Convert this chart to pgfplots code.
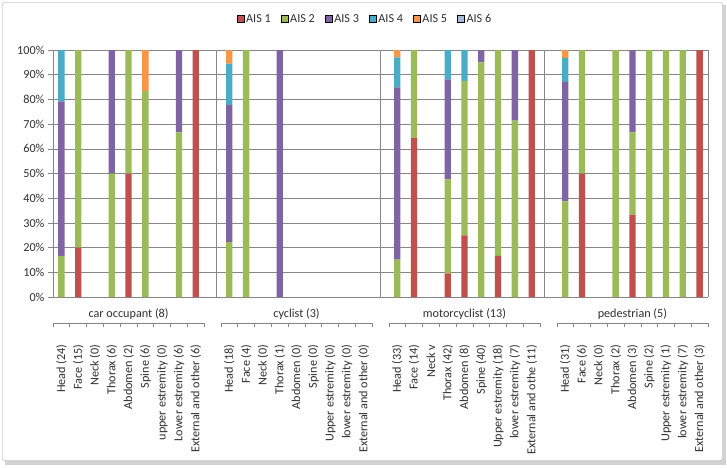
\documentclass[border=0pt]{standalone}
\usepackage{fontspec}
\setmainfont{Carlito}
\usepackage{pgfplots}
\pgfplotsset{compat=1.18}
\usepackage{pgfplotstable}
\definecolor{aisA}{HTML}{C0504D}
\definecolor{aisB}{HTML}{9BBB59}
\definecolor{aisC}{HTML}{8064A2}
\definecolor{aisD}{HTML}{4BACC6}
\definecolor{aisE}{HTML}{F79646}
\definecolor{aisF}{HTML}{A5B9DE}
\definecolor{gridc}{HTML}{868686}
\definecolor{txtc}{HTML}{303030}

\pgfplotstableread{
x  a1     a2     a3     a4     a5    a6
0  0      16.67  62.50  20.83  0     0
1  20     80     0      0      0     0
2  0      0      0      0      0     0
3  0      50     50     0      0     0
4  50     50     0      0      0     0
5  0      83.33  0      0      16.67 0
6  0      0      0      0      0     0
7  0      66.67  33.33  0      0     0
8  100    0      0      0      0     0
9  0      0      0      0      0     0
10 0      22.22  55.56  16.67  5.55  0
11 0      100    0      0      0     0
12 0      0      0      0      0     0
13 0      0      100    0      0     0
14 0      0      0      0      0     0
15 0      0      0      0      0     0
16 0      0      0      0      0     0
17 0      0      0      0      0     0
18 0      0      0      0      0     0
19 0      0      0      0      0     0
20 0      15.15  69.70  12.12  3.03  0
21 64.29  35.71  0      0      0     0
22 0      0      0      0      0     0
23 9.52   38.10  40.48  11.90  0     0
24 25     62.5   0      12.5   0     0
25 0      95     5      0      0     0
26 16.67  83.33  0      0      0     0
27 0      71.43  28.57  0      0     0
28 100    0      0      0      0     0
29 0      0      0      0      0     0
30 0      38.71  48.39  9.68   3.22  0
31 50     50     0      0      0     0
32 0      0      0      0      0     0
33 0      100    0      0      0     0
34 33.33  33.33  33.34  0      0     0
35 0      100    0      0      0     0
36 0      100    0      0      0     0
37 0      100    0      0      0     0
38 100    0      0      0      0     0
}\datatable

\begin{document}
\begin{tikzpicture}[x=1pt,y=1pt]
\path[use as bounding box] (0,0) rectangle (727,467);
\fill[gray!35] (5,2) rectangle (726,462);
\draw[gray!70, fill=white, rounded corners=2pt] (2.5,6.5) rectangle (722.5,464.5);
\begin{axis}[
  at={(53pt,170pt)}, anchor=south west,
  width=655pt, height=247pt, scale only axis, clip=false,
  ybar stacked, bar width=0.375,
  xmin=-0.5, xmax=38.5, ymin=0, ymax=100,
  axis x line*=bottom, axis y line*=left,
  axis line style={gridc, line width=0.7pt, -},
  ytick={0,10,20,30,40,50,60,70,80,90,100},
  yticklabels={0\%,10\%,20\%,30\%,40\%,50\%,60\%,70\%,80\%,90\%,100\%},
  ymajorgrids, grid style={gridc, line width=0.6pt},
  tick align=outside, major tick length=5pt,
  ytick style={gridc, line width=0.6pt},
  xtick={0,1,2,3,4,5,6,7,8,10,11,12,13,14,15,16,17,18,20,21,22,23,24,25,26,27,28,30,31,32,33,34,35,36,37,38},
  xticklabels={Head (24),Face (15),Neck (0),Thorax (6),Abdomen (2),Spine (6),upper estremity (0),Lower estremity (6),External and other (6),
    Head (18),Face (4),Neck (0),Thorax (1),Abdomen (0),Spine (0),Upper estremity (0),lower estremity (0),External and other (0),
    Head (33),Face (14),Neck v,Thorax (42),Abdomen (8),Spine (40),Upper estremity (18),lower estremity (7),External and othe (11),
    Head (31),Face (6),Neck (0),Thorax (2),Abdomen (3),Spine (2),Upper estremity (1),lower estremity (7),External and other (3)},
  xtick style={draw=none},
  xticklabel style={rotate=90, anchor=east},
  xticklabel shift=39pt,
  extra x ticks={9.25,19,28.75,38.5},
  extra x tick labels={},
  extra x tick style={grid=major, xticklabel shift=0pt, tick style={draw=gridc, line width=0.6pt}},
  tick label style={font=\fontsize{12.2}{14}\selectfont, text=txtc},
  legend style={at={(0.4763,1.1255)}, anchor=center, draw=none,
    legend columns=6, font=\fontsize{12.2}{14}\selectfont, text=txtc,
    /tikz/every even column/.append style={column sep=8pt}},
  legend image code/.code={\draw[#1] (0pt,-3.5pt) rectangle (7pt,3.5pt);},
]
\addplot[fill=aisA, draw=none] table[x=x,y=a1]{\datatable};
\addplot[fill=aisB, draw=none] table[x=x,y=a2]{\datatable};
\addplot[fill=aisC, draw=none] table[x=x,y=a3]{\datatable};
\addplot[fill=aisD, draw=none] table[x=x,y=a4]{\datatable};
\addplot[fill=aisE, draw=none] table[x=x,y=a5]{\datatable};
\addplot[fill=aisF, draw=none] table[x=x,y=a6]{\datatable};
\legend{AIS 1,AIS 2,AIS 3,AIS 4,AIS 5,AIS 6}
\node[font=\fontsize{12.2}{14}\selectfont, text=txtc] at (axis cs:4,0) [yshift=-17pt] {car occupant (8)};
\node[font=\fontsize{12.2}{14}\selectfont, text=txtc] at (axis cs:14,0) [yshift=-17pt] {cyclist (3)};
\node[font=\fontsize{12.2}{14}\selectfont, text=txtc] at (axis cs:24,0) [yshift=-17pt] {motorcyclist (13)};
\node[font=\fontsize{12.2}{14}\selectfont, text=txtc] at (axis cs:34,0) [yshift=-17pt] {pedestrian (5)};
\end{axis}
\foreach \g in {0,1,2,3} {
  \draw[gridc, line width=0.6pt] ({53+167.95*\g},144) -- ({53+167.95*\g+151.155},144);
  \foreach \i in {0,...,9} {
    \draw[gridc, line width=0.6pt] ({53+167.95*\g+16.795*\i},144) -- ++(0,-4);
  }
}
\end{tikzpicture}
\end{document}
